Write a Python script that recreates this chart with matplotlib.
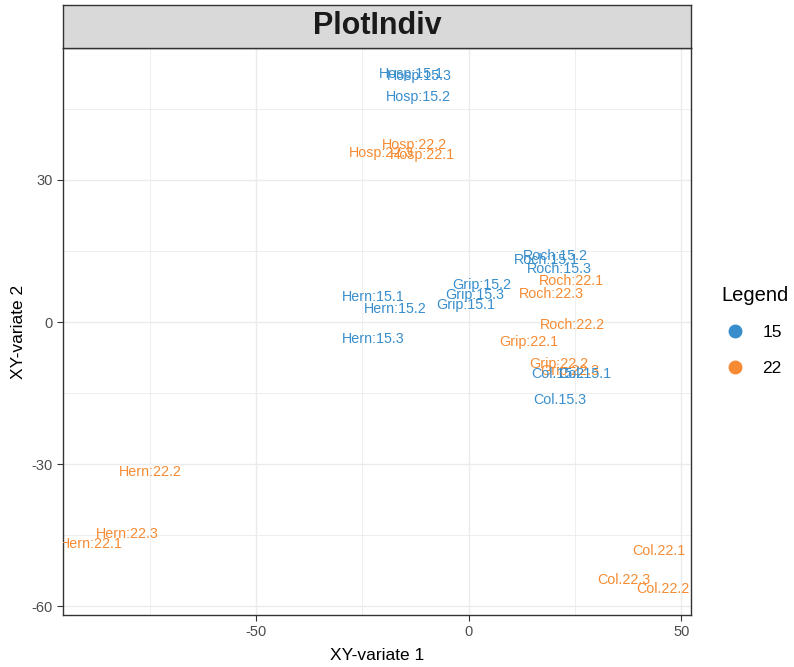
import matplotlib
matplotlib.use("Agg")
import matplotlib.pyplot as plt
from matplotlib.lines import Line2D

plt.rcParams['font.family'] = ['Liberation Sans', 'DejaVu Sans']
plt.rcParams['axes.unicode_minus'] = False

# sample labels, coordinates on the two variates and group
labels = ["Hosp:15.1", "Hosp:15.2", "Hosp:15.3", "Hosp:22.1", "Hosp:22.2", "Hosp:22.3",
          "Roch:15.1", "Roch:15.2", "Roch:15.3", "Roch:22.1", "Roch:22.2", "Roch:22.3",
          "Grip:15.1", "Grip:15.2", "Grip:15.3", "Grip:22.1", "Grip:22.2", "Grip:22.3",
          "Col.15.1", "Col.15.2", "Col.15.3", "Col.22.1", "Col.22.2", "Col.22.3",
          "Hern:15.1", "Hern:15.2", "Hern:15.3", "Hern:22.1", "Hern:22.2", "Hern:22.3"]
variate1 = [-13.4, -11.8, -11.5, -10.8, -12.7, -20.5,
            18.4, 20.5, 21.4, 24.2, 24.5, 19.5,
            -0.7, 3.1, 1.4, 14.1, 21.2, 23.8,
            27.3, 20.9, 21.4, 44.7, 45.6, 36.5,
            -22.4, -17.2, -22.4, -88.7, -74.8, -80.2]
variate2 = [52.4, 47.5, 51.9, 35.2, 37.3, 35.6,
            13.1, 14.0, 11.2, 8.7, -0.6, 5.9,
            3.6, 7.8, 5.7, -4.2, -8.9, -10.4,
            -11.0, -11.0, -16.5, -48.3, -56.4, -54.5,
            5.3, 2.8, -3.6, -46.9, -31.6, -44.7]
groups = ["15", "15", "15", "22", "22", "22"] * 5

group_names = ["15", "22"]
group_colors = {"15": "#388ECC", "22": "#F68B33"}

fig = plt.figure(figsize=(7.94, 6.67), dpi=100)
ax = fig.add_axes([63 / 794, 1 - 615 / 667, 628 / 794, 567 / 667])
strip = fig.add_axes([63 / 794, 1 - 48 / 667, 628 / 794, 43 / 667])

for lab, x, y, g in zip(labels, variate1, variate2, groups):
    ax.text(x, y, lab, color=group_colors[g], fontsize=10.3,
            ha="center", va="center", clip_on=True)

# ggplot-like expansion of the ranges
xr = max(variate1) - min(variate1)
yr = max(variate2) - min(variate2)
ax.set_xlim(min(variate1) - 0.05 * xr, max(variate1) + 0.05 * xr)
ax.set_ylim(min(variate2) - 0.05 * yr, max(variate2) + 0.05 * yr)

ax.set_xticks([-50, 0, 50])
ax.set_yticks([-60, -30, 0, 30])
ax.set_xticks([-75, -25, 25], minor=True)
ax.set_yticks([-45, -15, 15, 45], minor=True)
ax.grid(True, which="major", color="#EBEBEB", linewidth=1.0)
ax.grid(True, which="minor", color="#EBEBEB", linewidth=0.6)
ax.set_axisbelow(True)
ax.tick_params(which="major", length=4, color="#333333", labelsize=10.5,
               labelcolor="#4D4D4D", width=0.8)
ax.tick_params(which="minor", length=0)
for s in ax.spines.values():
    s.set_color("#333333")
    s.set_linewidth(1.0)
ax.set_xlabel("XY-variate 1", fontsize=12.5, color="black", labelpad=6)
ax.set_ylabel("XY-variate 2", fontsize=12.5, color="black", labelpad=4)

strip.set_facecolor("#D9D9D9")
strip.set_xticks([])
strip.set_yticks([])
for s in strip.spines.values():
    s.set_color("#333333")
    s.set_linewidth(1.0)
strip.text(0.5, 0.5, "PlotIndiv", ha="center", va="center", fontsize=22,
           fontweight="bold", color="#1A1A1A", transform=strip.transAxes)

handles = [Line2D([0], [0], marker="o", linestyle="", markersize=9,
                  color=group_colors[g]) for g in group_names]
leg = fig.legend(handles, group_names, title="Legend", loc="center left",
                 bbox_to_anchor=(718 / 794, 1 - 331 / 667), frameon=False,
                 fontsize=12.5, title_fontsize=14.5, handlelength=1.6,
                 handletextpad=0.75, labelspacing=1.15, borderpad=0.2,
                 borderaxespad=0)
leg._legend_box.align = "left"

fig.savefig("out.png", dpi=100)
